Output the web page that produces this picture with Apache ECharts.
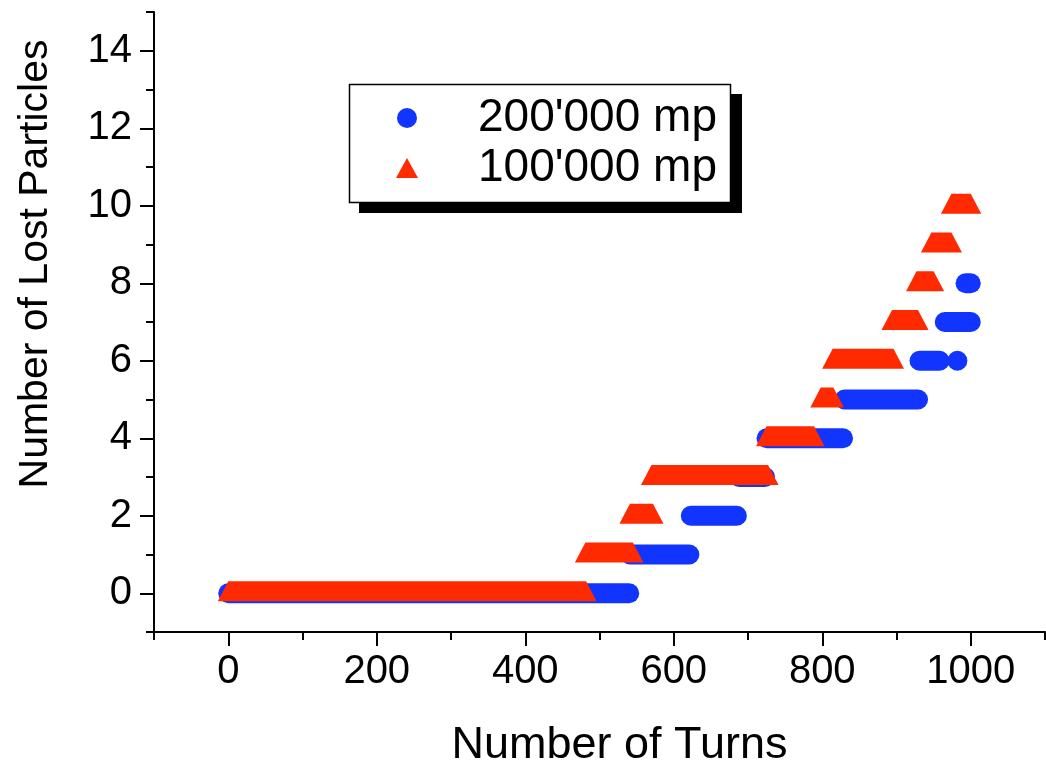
<!DOCTYPE html>
<html>
<head>
<meta charset="utf-8">
<script src="https://cdn.jsdelivr.net/npm/echarts@6/dist/echarts.min.js"></script>
<style>html,body{margin:0;padding:0;background:#fff;}#c{width:1046px;height:762px;}</style>
</head>
<body>
<div id="c"></div>
<script>
// ---- data (turn ranges at each loss level) ----
const blueName = "200'000 mp";
const blueStart = [0, 541, 623, 688, 725, 830, 931, 982, 965, 993];
const blueEnd   = [540, 621, 685, 723, 828, 929, 958, 982, 1000, 1000];
const blueLevel = [0, 1, 2, 3, 4, 5, 6, 6, 7, 8];

const redName = "100'000 mp";
const redStart = [0, 481, 541, 570, 725, 798, 814, 894, 927, 947, 974];
const redEnd   = [482, 545, 572, 727, 789, 815, 896, 929, 950, 974, 1000];
const redLevel = [0, 1, 2, 3, 4, 5, 6, 7, 8, 9, 10];

const xMajorTicks = [0, 200, 400, 600, 800, 1000];
const xMinorTicks = [-100, 100, 300, 500, 700, 900, 1100];
const yMajorTicks = [0, 2, 4, 6, 8, 10, 12, 14];
const yMinorTicks = [-1, 1, 3, 5, 7, 9, 11, 13, 15];

const FONT = "'Liberation Sans', Arial, sans-serif";
const BLUE = '#1134ff';
const RED = '#ff2a00';

const blueData = blueStart.map((s, i) => [s, blueEnd[i], blueLevel[i]]);
const redData = redStart.map((s, i) => [s, redEnd[i], redLevel[i]]);

function renderCapsule(params, api) {
  const p1 = api.coord([api.value(0), api.value(2)]);
  const p2 = api.coord([api.value(1), api.value(2)]);
  const r = 10;
  return {
    type: 'rect',
    shape: { x: p1[0] - r, y: p1[1] - r, width: p2[0] - p1[0] + 2 * r, height: 2 * r, r: r },
    style: { fill: api.visual('color') }
  };
}
function renderTrap(params, api) {
  const p1 = api.coord([api.value(0), api.value(2)]);
  const p2 = api.coord([api.value(1), api.value(2)]);
  const hb = 10.5, top = 12, bot = 8;
  return {
    type: 'polygon',
    shape: { points: [[p1[0], p1[1] - top], [p2[0], p2[1] - top], [p2[0] + hb, p2[1] + bot], [p1[0] - hb, p1[1] + bot]] },
    style: { fill: api.visual('color') }
  };
}

const axisLineStyle = { color: '#000', width: 2 };
const plainNum = v => String(v);

const chart = echarts.init(document.getElementById('c'), null, { renderer: 'canvas' });
chart.setOption({
  animation: false,
  backgroundColor: '#fff',
  grid: { left: 154, right: 1, top: 12, bottom: 130, containLabel: false, outerBoundsMode: 'none' },
  graphic: [
    { type: 'rect', z: 5, shape: { x: 359, y: 94, width: 383, height: 119 }, style: { fill: '#000' } },
    { type: 'rect', z: 6, shape: { x: 349.5, y: 84.5, width: 381, height: 118 }, style: { fill: '#fff', stroke: '#000', lineWidth: 1.5 } }
  ],
  xAxis: [{
    type: 'value', min: -100, max: 1100, position: 'bottom',
    name: 'Number of Turns', nameLocation: 'middle', nameGap: 91,
    nameTextStyle: { fontFamily: FONT, fontSize: 45, color: '#000', padding: [0, 0, 0, 40] },
    axisLine: { show: true, onZero: false, lineStyle: axisLineStyle },
    axisTick: { show: true, inside: false, length: 14, customValues: xMajorTicks, lineStyle: axisLineStyle },
    axisLabel: { show: true, customValues: xMajorTicks, formatter: plainNum, margin: 20, fontFamily: FONT, fontSize: 40, color: '#000' },
    splitLine: { show: false }
  }, {
    type: 'value', min: -100, max: 1100, position: 'bottom',
    axisLine: { show: false, onZero: false },
    axisTick: { show: true, inside: false, length: 8, customValues: xMinorTicks, lineStyle: axisLineStyle },
    axisLabel: { show: false },
    splitLine: { show: false }
  }],
  yAxis: [{
    type: 'value', min: -1, max: 15, position: 'left',
    name: 'Number of Lost Particles', nameLocation: 'middle', nameGap: 98, nameRotate: 90,
    nameTextStyle: { fontFamily: FONT, fontSize: 41, color: '#000', padding: [0, 0, 0, 116] },
    axisLine: { show: true, onZero: false, lineStyle: axisLineStyle },
    axisTick: { show: true, inside: false, length: 14, customValues: yMajorTicks, lineStyle: axisLineStyle },
    axisLabel: { show: true, customValues: yMajorTicks, formatter: plainNum, margin: 22, fontFamily: FONT, fontSize: 40, color: '#000' },
    splitLine: { show: false }
  }, {
    type: 'value', min: -1, max: 15, position: 'left',
    axisLine: { show: false, onZero: false },
    axisTick: { show: true, inside: false, length: 8, customValues: yMinorTicks, lineStyle: axisLineStyle },
    axisLabel: { show: false },
    splitLine: { show: false }
  }],
  legend: {
    orient: 'vertical', left: 349, top: 84, z: 10,
    padding: [11, 9, 12, 47],
    itemWidth: 22, itemHeight: 20, itemGap: 4,
    textStyle: { fontFamily: FONT, fontSize: 46, color: '#000', lineHeight: 46, width: 245, padding: [0, 0, 0, 55] },
    data: [{ name: blueName, icon: 'circle' }, { name: redName, icon: 'triangle' }]
  },
  series: [{
    name: blueName, type: 'custom', xAxisIndex: 0, yAxisIndex: 0,
    itemStyle: { color: BLUE },
    encode: { x: [0, 1], y: 2 },
    renderItem: renderCapsule,
    data: blueData, z: 2
  }, {
    name: redName, type: 'custom', xAxisIndex: 0, yAxisIndex: 0,
    itemStyle: { color: RED },
    encode: { x: [0, 1], y: 2 },
    renderItem: renderTrap,
    data: redData, z: 3
  }]
});
</script>
</body>
</html>
